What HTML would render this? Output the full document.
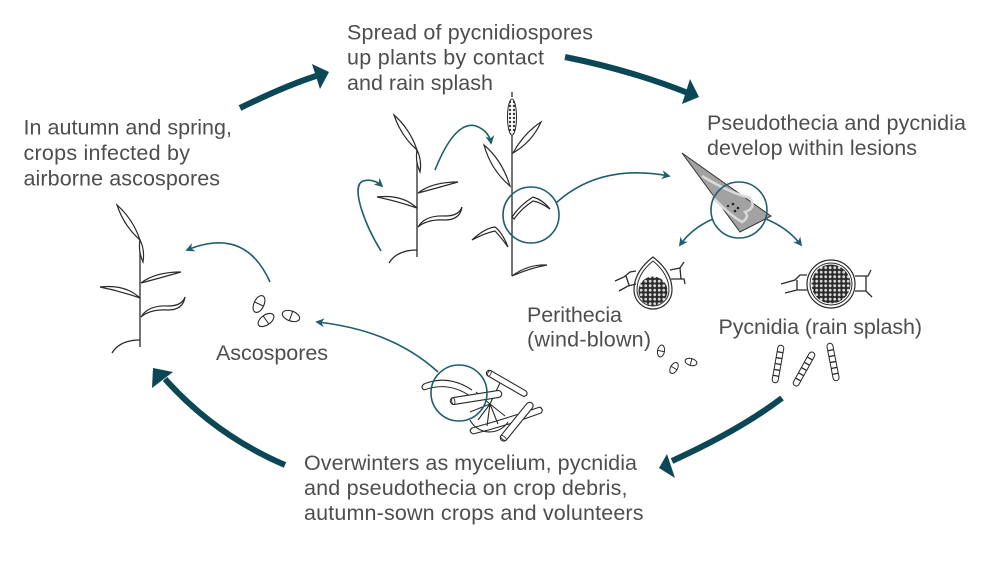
<!DOCTYPE html>
<html><head><meta charset="utf-8"><style>
html,body{margin:0;padding:0;background:#fff;width:1000px;height:575px;overflow:hidden}
svg{display:block}
text{font-family:"Liberation Sans",Arial,sans-serif;font-size:21.5px;fill:#4e4e4e}
.pl{fill:#fff;stroke:#2a2a2a;stroke-width:1.2}
.ln{fill:none;stroke:#2a2a2a;stroke-width:1.3}
.th{fill:none;stroke:#1f5f6c;stroke-width:1.6}
.big{fill:none;stroke:#0c4755;stroke-width:6}
.cir{fill:none;stroke:#1f5f6c;stroke-width:1.6}
</style></head><body>
<svg width="1000" height="575" viewBox="0 0 1000 575" xmlns="http://www.w3.org/2000/svg">
<defs>
<marker id="ah" viewBox="0 0 10 10" refX="8" refY="5" markerWidth="9" markerHeight="9" markerUnits="userSpaceOnUse" orient="auto">
<path d="M0,0 L10,5 L0,10 L3,5 Z" fill="#1f5f6c"/>
</marker>
<pattern id="dots" width="4.5" height="4.5" patternUnits="userSpaceOnUse">
<rect width="4.5" height="4.5" fill="#2b2b2b"/>
<circle cx="2.2" cy="2.2" r="1.4" fill="#d8d8d8"/>
</pattern>
<pattern id="ear" width="4" height="4" patternUnits="userSpaceOnUse">
<rect width="4" height="4" fill="#fff"/>
<circle cx="2" cy="2" r="1.2" fill="#333"/>
</pattern>
<g id="plant">
<line x1="140" y1="240" x2="140" y2="347" class="ln"/>
<path class="pl" d="M117,205 Q133,219 140,240 Q124,226 117,205Z"/>
<path class="pl" d="M140,240 Q145,250 143,262 Q138,251 140,240Z"/>
<path class="pl" d="M141,283 Q155,272 181,272 Q160,278 141,283Z"/>
<path class="pl" d="M100,287 Q125,284 140,298 Q120,291 100,287Z"/>
<path class="pl" d="M141,317 Q148,305 168,306 Q182,306 185,297 Q183,310 168,310 Q150,309 141,317Z"/>
<path class="ln" d="M112,353 Q120,340 140,340"/>
</g>
</defs>

<!-- big cycle arrows -->
<path class="big" d="M240,108 Q285,86 316,76"/>
<polygon points="312,64 329,72 320,89" fill="#0c4755"/>
<path class="big" d="M565,57 Q630,70 688,93"/>
<polygon points="690,79 699,97 682,104" fill="#0c4755"/>
<path class="big" d="M782,398 Q740,430 672,461"/>
<polygon points="667,454 659,468 675,478" fill="#0c4755"/>
<path class="big" d="M285,465 Q215,435 165,379"/>
<polygon points="173,372 153,368 152,388" fill="#0c4755"/>

<!-- plants -->
<use href="#plant"/>
<use href="#plant" transform="translate(277,-90)"/>

<!-- middle right plant -->
<g>
<line x1="512" y1="133" x2="512" y2="276" class="ln"/>
<ellipse cx="512" cy="117" rx="4.5" ry="18" fill="url(#ear)" stroke="#2a2a2a" stroke-width="1"/>
<line x1="512" y1="97" x2="512" y2="92" class="ln"/>
<path class="pl" d="M513,153 Q524,133 541,122 Q532,142 513,153Z"/>
<path class="pl" d="M484,145 Q502,160 510,186 Q491,170 484,145Z"/>
<path class="pl" d="M512,217 Q520,205 533,197 Q543,200 550,209 Q540,202 533,201 Q522,208 514,219Z"/>
<path class="pl" d="M472,240 Q485,228 495,227 Q502,232 508,247 Q500,236 495,231 Q485,233 472,240Z"/>
<path class="pl" d="M512,276 Q528,264 547,265 Q530,268 512,276Z"/>
</g>

<!-- thin arrows -->
<path class="th" d="M270,282 Q245,226 187,250" marker-end="url(#ah)"/>
<path class="th" d="M381,251 C365,225 350,186 363,181 Q373,178 382,186" marker-end="url(#ah)"/>
<path class="th" d="M435,170 Q455,120 476,126 Q489,131 491,143" marker-end="url(#ah)"/>
<path class="th" d="M556,203 Q600,163 669,176" marker-end="url(#ah)"/>
<path class="th" d="M713,219 Q692,228 680,245" marker-end="url(#ah)"/>
<path class="th" d="M766,219 Q788,228 801,245" marker-end="url(#ah)"/>
<path class="th" d="M438,372 Q392,330 317,322" marker-end="url(#ah)"/>

<!-- circles -->
<circle class="cir" cx="531" cy="215" r="28"/>

<!-- leaf lesion -->
<polygon points="682,153 771,216 740,232" fill="#a2a2a2" stroke="#333" stroke-width="1"/>
<path d="M702,176 Q728,192 750,198 Q757,208 745,212 Q750,217 742,222 Q728,214 712,196" fill="none" stroke="#dadada" stroke-width="2.5"/>
<circle cx="733" cy="204" r="1.3" fill="#222"/>
<circle cx="738" cy="208" r="1.3" fill="#222"/>
<circle cx="735" cy="211" r="1.3" fill="#222"/>
<circle cx="728" cy="206" r="1.1" fill="#222"/>
<circle class="cir" cx="739" cy="210" r="28"/>

<!-- perithecia -->
<path d="M653,257 C640,267 634,278 634,290 A19,19 0 0 0 672,290 C672,278 666,267 653,257Z" fill="#fff" stroke="#2a2a2a" stroke-width="1.2"/>
<path d="M653,261 C642,270 637,280 637,290 A16,16 0 0 0 669,290 C669,280 664,270 653,261Z" fill="none" stroke="#2a2a2a" stroke-width="1"/>
<circle cx="653" cy="291" r="14.5" fill="url(#dots)"/>
<path class="ln" d="M615,281 L624,277 L630,272 L636,271 M619,291 L628,286 L636,284 M626,276 L629,285 M670,270 L680,268 L684,262 M671,279 L684,279 L685,284 M680,268 L681,279"/>

<!-- pycnidia -->
<circle cx="831" cy="284" r="24" fill="#fff" stroke="#2a2a2a" stroke-width="1.2"/>
<circle cx="831" cy="284" r="21" fill="none" stroke="#2a2a2a" stroke-width="1"/>
<circle cx="831" cy="284" r="19.5" fill="url(#dots)"/>
<path class="ln" d="M781,284 L795,280 L800,275 L807,275 M785,293 L797,290 L807,290 M797,280 L797,290 M855,276 L868,276 L871,270 M855,291 L866,291 L872,297 M866,276 L866,291"/>

<!-- pycnidiospores -->
<g transform="translate(778,364) rotate(100)"><rect x="-19" y="-3" width="38" height="6" rx="3" fill="#fff" stroke="#2a2a2a" stroke-width="1"/><path class="ln" stroke-width="0.9" d="M-12,-3V3M-6,-3V3M0,-3V3M6,-3V3M12,-3V3"/></g>
<g transform="translate(804,369) rotate(119)"><rect x="-19" y="-3" width="38" height="6" rx="3" fill="#fff" stroke="#2a2a2a" stroke-width="1"/><path class="ln" stroke-width="0.9" d="M-12,-3V3M-6,-3V3M0,-3V3M6,-3V3M12,-3V3"/></g>
<g transform="translate(833,362) rotate(79)"><rect x="-19" y="-3" width="38" height="6" rx="3" fill="#fff" stroke="#2a2a2a" stroke-width="1"/><path class="ln" stroke-width="0.9" d="M-12,-3V3M-6,-3V3M0,-3V3M6,-3V3M12,-3V3"/></g>

<!-- small ascospores near perithecia -->
<g transform="translate(661,351) rotate(100)"><ellipse rx="6" ry="3.5" fill="#fff" stroke="#2a2a2a" stroke-width="1"/><line x1="0" y1="-3.5" x2="0" y2="3.5" stroke="#2a2a2a"/></g>
<g transform="translate(674,368) rotate(-60)"><ellipse rx="6" ry="3.5" fill="#fff" stroke="#2a2a2a" stroke-width="1"/><line x1="0" y1="-3.5" x2="0" y2="3.5" stroke="#2a2a2a"/></g>
<g transform="translate(691,362) rotate(15)"><ellipse rx="6" ry="3.5" fill="#fff" stroke="#2a2a2a" stroke-width="1"/><line x1="0" y1="-3.5" x2="0" y2="3.5" stroke="#2a2a2a"/></g>

<!-- left ascospores -->
<g transform="translate(259,304) rotate(-65)"><ellipse rx="9" ry="5" fill="#fff" stroke="#2a2a2a" stroke-width="1.1"/><line x1="0" y1="-5" x2="0" y2="5" stroke="#2a2a2a"/></g>
<g transform="translate(266,320) rotate(-35)"><ellipse rx="9" ry="5" fill="#fff" stroke="#2a2a2a" stroke-width="1.1"/><line x1="0" y1="-5" x2="0" y2="5" stroke="#2a2a2a"/></g>
<g transform="translate(291,316) rotate(20)"><ellipse rx="9" ry="5" fill="#fff" stroke="#2a2a2a" stroke-width="1.1"/><line x1="0" y1="-5" x2="0" y2="5" stroke="#2a2a2a"/></g>

<!-- debris -->
<g fill="none" stroke="#2a2a2a" stroke-width="1.1">
<path d="M424,384 Q448,374 472,390 M424,390 Q448,381 470,396 M424,384 Q420,387 424,390"/>
<path d="M490,404 L478,420 M490,404 L487,426 M490,404 L498,424 M490,404 L505,416 M490,404 L470,412 M490,404 L500,383 M490,404 L476,392"/>
<path d="M470,420 A22,22 0 0 0 508,422"/>
<path d="M472,428 Q505,419 540,407 M473,434 Q506,426 541,413 M472,428 Q468,431 473,434 M540,407 Q544,410 541,413"/>
</g>
<g transform="translate(506.7,383.3) rotate(30)"><rect x="-23" y="-3" width="46" height="6" rx="3" fill="#fff" stroke="#2a2a2a" stroke-width="1.1"/><ellipse cx="-20" cy="0" rx="1.5" ry="3" fill="none" stroke="#2a2a2a" stroke-width="0.9"/></g>
<g transform="translate(476,397.5) rotate(-9)"><rect x="-26" y="-3.5" width="52" height="7" rx="3.5" fill="#fff" stroke="#2a2a2a" stroke-width="1.1"/><ellipse cx="-23" cy="0" rx="1.6" ry="3.5" fill="none" stroke="#2a2a2a" stroke-width="0.9"/></g>
<g transform="translate(516.7,421.7) rotate(-51)"><rect x="-24" y="-3.5" width="48" height="7" rx="3.5" fill="#fff" stroke="#2a2a2a" stroke-width="1.1"/><ellipse cx="-21" cy="0" rx="1.6" ry="3.5" fill="none" stroke="#2a2a2a" stroke-width="0.9"/></g>
<circle class="cir" cx="459" cy="393" r="28"/>

<!-- text -->
<text x="347" y="39.5" textLength="246" lengthAdjust="spacing">Spread of pycnidiospores</text>
<text x="347" y="64.5" textLength="197" lengthAdjust="spacing">up plants by contact</text>
<text x="347" y="90" textLength="146" lengthAdjust="spacing">and rain splash</text>

<text x="23.5" y="134.5" textLength="208.5" lengthAdjust="spacing">In autumn and spring,</text>
<text x="23.5" y="160" textLength="166.5" lengthAdjust="spacing">crops infected by</text>
<text x="23.5" y="185.5" textLength="196.5" lengthAdjust="spacing">airborne ascospores</text>

<text x="707" y="130" textLength="259" lengthAdjust="spacing">Pseudothecia and pycnidia</text>
<text x="707" y="155" textLength="210" lengthAdjust="spacing">develop within lesions</text>

<text x="216" y="360" textLength="112" lengthAdjust="spacing">Ascospores</text>

<text x="527" y="322" textLength="95" lengthAdjust="spacing">Perithecia</text>
<text x="527" y="346.5" textLength="124" lengthAdjust="spacing">(wind-blown)</text>

<text x="718.5" y="334" textLength="203.5" lengthAdjust="spacing">Pycnidia (rain splash)</text>

<text x="304" y="470" textLength="333" lengthAdjust="spacing">Overwinters as mycelium, pycnidia</text>
<text x="304" y="495" textLength="323.5" lengthAdjust="spacing">and pseudothecia on crop debris,</text>
<text x="304" y="520" textLength="339.5" lengthAdjust="spacing">autumn-sown crops and volunteers</text>
</svg>
</body></html>
